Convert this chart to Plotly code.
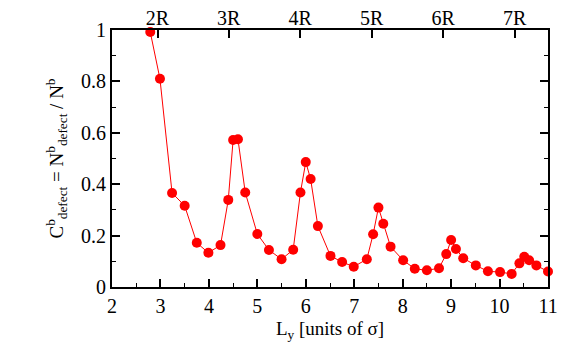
import plotly.graph_objects as go

# Data
Ly = [2.79, 2.99, 3.24, 3.50, 3.75, 3.99, 4.24, 4.40, 4.50, 4.60,
      4.75, 5.00, 5.24, 5.50, 5.74, 5.89, 6.00, 6.10, 6.25, 6.51,
      6.75, 6.99, 7.26, 7.39, 7.50, 7.60, 7.75, 8.01, 8.25, 8.50,
      8.75, 8.90, 9.00, 9.10, 9.25, 9.51, 9.76, 10.01, 10.25, 10.41,
      10.51, 10.61, 10.76, 11.0]
C_defect = [0.992, 0.81, 0.366, 0.316, 0.172, 0.133, 0.163, 0.339, 0.572, 0.575,
            0.368, 0.206, 0.144, 0.108, 0.145, 0.368, 0.486, 0.42, 0.237, 0.121,
            0.097, 0.079, 0.108, 0.205, 0.309, 0.246, 0.157, 0.104, 0.071, 0.065,
            0.073, 0.128, 0.183, 0.148, 0.112, 0.084, 0.061, 0.058, 0.051, 0.092,
            0.118, 0.104, 0.084, 0.06]

x_ticks = [2, 3, 4, 5, 6, 7, 8, 9, 10, 11]
y_ticks = [0, 0.2, 0.4, 0.6, 0.8, 1]
y_labels = ["0", "0.2", "0.4", "0.6", "0.8", "1"]
top_tick_vals = [2.94, 4.41, 5.885, 7.36, 8.835, 10.31]
top_tick_text = ["2R", "3R", "4R", "5R", "6R", "7R"]

FONT = "Liberation Serif, Times New Roman, serif"

fig = go.Figure()
fig.add_trace(go.Scatter(
    x=Ly, y=C_defect, mode="lines+markers",
    line=dict(color="#ff0000", width=1),
    marker=dict(color="#ff0000", size=10),
    cliponaxis=False, showlegend=False,
))
# invisible trace for the top axis
fig.add_trace(go.Scatter(x=[2, 11], y=[0, 0], xaxis="x2", mode="markers",
                         marker=dict(opacity=0), showlegend=False, hoverinfo="skip"))

fig.update_layout(
    width=572, height=357,
    margin=dict(l=112, r=24, t=30, b=70),
    paper_bgcolor="white", plot_bgcolor="white",
    font=dict(family=FONT, size=20, color="black"),
    xaxis=dict(
        range=[2, 11], tickvals=x_ticks, ticktext=[str(v) for v in x_ticks],
        ticks="inside", ticklen=8, tickwidth=1.5, tickcolor="black",
        tickfont=dict(size=20), automargin=False,
        minor=dict(dtick=0.5, ticks="inside", ticklen=4, tickwidth=1, tickcolor="black"),
        showline=True, linecolor="black", linewidth=2, mirror=True,
        showgrid=False, zeroline=False,
        title=dict(text="L<sub>y</sub> [units of σ]", standoff=6, font=dict(size=19)),
    ),
    xaxis2=dict(
        range=[2, 11], overlaying="x", side="top",
        tickvals=top_tick_vals, ticktext=top_tick_text,
        ticks="inside", ticklen=8, tickwidth=1.5, tickcolor="black",
        tickfont=dict(size=20), automargin=False,
        showline=False, showgrid=False, zeroline=False,
    ),
    yaxis=dict(
        range=[0, 1], tickvals=y_ticks, ticktext=y_labels,
        ticks="inside", ticklen=8, tickwidth=1.5, tickcolor="black",
        tickfont=dict(size=20), automargin=False,
        minor=dict(dtick=0.1, ticks="inside", ticklen=4, tickwidth=1, tickcolor="black"),
        showline=True, linecolor="black", linewidth=2, mirror="ticks",
        showgrid=False, zeroline=False,
        title=dict(text="C<sup>b</sup><sub>defect</sub> = N<sup>b</sup><sub>defect</sub> / N<sup>b</sup>",
                   standoff=12, font=dict(size=19)),
    ),
)

fig.write_html("out.html")
